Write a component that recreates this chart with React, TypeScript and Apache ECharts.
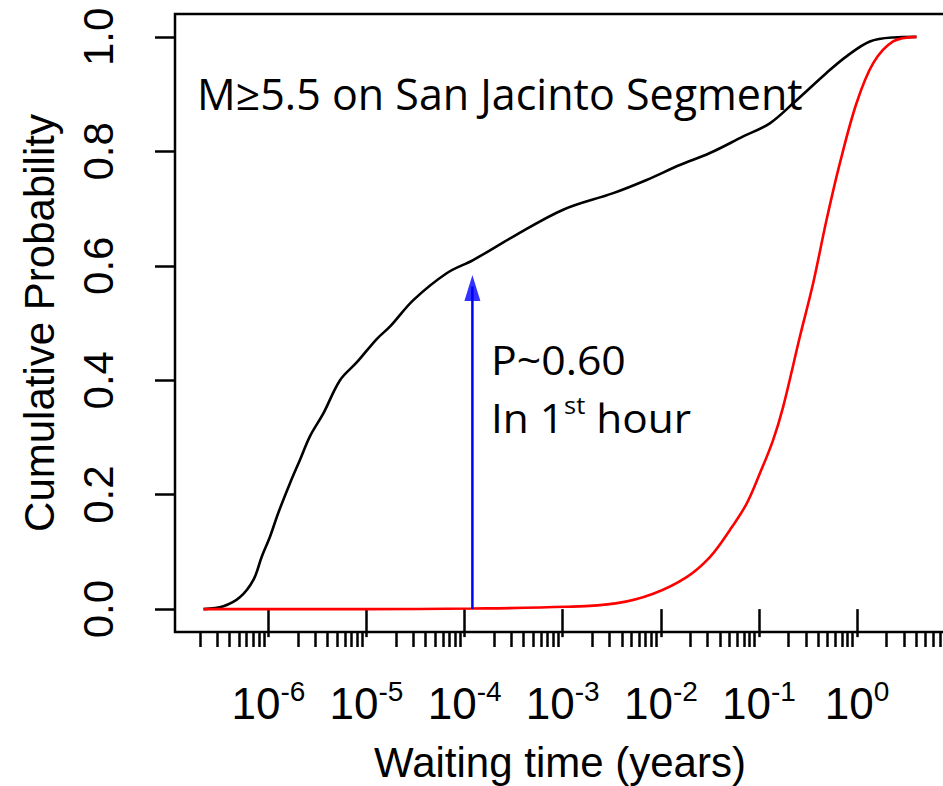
import React, { useEffect, useRef } from 'react';
import * as echarts from 'echarts';

// Waiting time (years) and cumulative probability
const BLACK_T = [2.18e-7, 3.48e-7, 5.15e-7, 7.03e-7, 8.57e-7, 1.04e-6, 1.26e-6, 1.66e-6, 2.1e-6, 2.65e-6, 3.63e-6, 5.37e-6, 7.94e-6, 1.27e-5, 1.74e-5, 3.0e-5, 6.56e-5, 1.22e-4, 3.13e-4, 1.01e-3, 3.27e-3, 7.15e-3, 0.0156, 0.0316, 0.069, 0.129, 0.223, 0.488, 0.78, 1.35, 2.33, 4.03];
const BLACK_P = [0, 0.005, 0.021, 0.051, 0.092, 0.127, 0.168, 0.22, 0.261, 0.302, 0.342, 0.4, 0.431, 0.472, 0.494, 0.54, 0.587, 0.61, 0.651, 0.698, 0.727, 0.75, 0.776, 0.797, 0.826, 0.849, 0.884, 0.937, 0.966, 0.992, 0.999, 1.0];

const RED_T = [2.18e-7, 1e-5, 1.2e-4, 1.07e-3, 3.46e-3, 8.36e-3, 0.0183, 0.0316, 0.0504, 0.0747, 0.102, 0.139, 0.176, 0.261, 0.356, 0.488, 0.667, 0.986, 1.46, 2.33, 4.03];
const RED_P = [0, 0, 0.001, 0.004, 0.01, 0.027, 0.056, 0.091, 0.138, 0.184, 0.237, 0.295, 0.353, 0.476, 0.569, 0.68, 0.779, 0.884, 0.954, 0.992, 1.0];

const MAJOR_TICKS = [1e-6, 1e-5, 1e-4, 1e-3, 1e-2, 1e-1, 1];
const MINOR_DECADES = [1e-7, 1e-6, 1e-5, 1e-4, 1e-3, 1e-2, 1e-1, 1];
const MINOR_MULTIPLIERS = [2, 3, 4, 5, 6, 7, 8, 9];
const Y_TICKS = [0, 0.2, 0.4, 0.6, 0.8, 1.0];

const ARROW_X = 1.2e-4; // about one hour, in years
const ARROW_TOP = 0.584;

const TITLE = 'M≥5.5 on San Jacinto Segment';
const NOTE_1 = 'P~0.60';

const X_MIN = Math.pow(10, -6.952);
const X_MAX = Math.pow(10, 0.896);

const AXIS_FONT = '"Liberation Sans", Arial, Helvetica, sans-serif';
const NOTE_FONT = '"Open Sans", Lato, sans-serif';

export default function App() {
  const ref = useRef<HTMLDivElement>(null);

  useEffect(() => {
    if (!ref.current) return;
    const chart = echarts.init(ref.current, null, { renderer: 'svg' });

    const minorTicks: number[] = [];
    MINOR_DECADES.forEach((d) => MINOR_MULTIPLIERS.forEach((m) => minorTicks.push(m * d)));

    const black = BLACK_T.map((t, i) => [t, BLACK_P[i]]);
    const red = RED_T.map((t, i) => [t, RED_P[i]]);

    chart.setOption({
      animation: false,
      backgroundColor: '#ffffff',
      grid: {
        left: 175,
        top: 14,
        width: 770,
        height: 618,
        show: true,
        borderColor: '#000',
        borderWidth: 2.5,
        backgroundColor: 'transparent',
        containLabel: false,
        outerBoundsMode: 'none',
      },
      xAxis: [
        {
          type: 'log',
          logBase: 10,
          min: X_MIN,
          max: X_MAX,
          gridIndex: 0,
          position: 'bottom',
          axisLine: { show: false },
          splitLine: { show: false },
          axisTick: {
            show: true,
            customValues: MAJOR_TICKS,
            length: 28,
            lineStyle: { color: '#000', width: 2.5 },
          },
          axisLabel: {
            show: true,
            customValues: MAJOR_TICKS,
            margin: 45,
            formatter: (v: number) => `{b|10}{s|${Math.round(Math.log10(v))}}`,
            rich: {
              b: { fontSize: 44, fontFamily: AXIS_FONT, color: '#000', lineHeight: 52 },
              s: { fontSize: 28, fontFamily: AXIS_FONT, color: '#000', lineHeight: 24, verticalAlign: 'top' },
            },
          },
          name: 'Waiting time (years)',
          nameLocation: 'middle',
          nameGap: 109,
          nameTextStyle: { fontSize: 42, fontFamily: AXIS_FONT, color: '#000' },
        },
        {
          type: 'log',
          logBase: 10,
          min: X_MIN,
          max: X_MAX,
          gridIndex: 0,
          position: 'bottom',
          axisLine: { show: false },
          splitLine: { show: false },
          axisTick: {
            show: true,
            customValues: minorTicks,
            length: 15,
            lineStyle: { color: '#000', width: 2.5 },
          },
          axisLabel: { show: false },
        },
      ],
      yAxis: {
        type: 'value',
        min: -0.04,
        max: 1.04,
        axisLine: { show: false },
        splitLine: { show: false },
        axisTick: {
          show: true,
          customValues: Y_TICKS,
          length: 20,
          lineStyle: { color: '#000', width: 2.5 },
        },
        axisLabel: {
          show: true,
          customValues: Y_TICKS,
          rotate: 90,
          margin: 56,
          fontSize: 42,
          fontFamily: AXIS_FONT,
          color: '#000',
          formatter: (v: number) => v.toFixed(1),
        },
        name: 'Cumulative Probability',
        nameLocation: 'middle',
        nameGap: 115,
        nameTextStyle: { fontSize: 42, fontFamily: AXIS_FONT, color: '#000' },
      },
      series: [
        {
          type: 'line',
          xAxisIndex: 0,
          data: black,
          showSymbol: false,
          smooth: 0.35,
          lineStyle: { color: '#000', width: 2.6 },
        },
        {
          type: 'line',
          xAxisIndex: 0,
          data: red,
          showSymbol: false,
          smooth: 0.35,
          lineStyle: { color: '#ff0000', width: 2.6 },
        },
        {
          type: 'line',
          xAxisIndex: 0,
          data: [[ARROW_X, 0], [ARROW_X, ARROW_TOP - 0.02]],
          showSymbol: false,
          lineStyle: { color: '#0000ff', width: 2.5 },
        },
        {
          type: 'scatter',
          xAxisIndex: 0,
          data: [[ARROW_X, ARROW_TOP]],
          symbol: 'triangle',
          symbolSize: [16, 26],
          symbolOffset: [0, '50%'],
          itemStyle: { color: '#0000ff' },
        },
      ],
      graphic: [
        {
          type: 'text',
          x: 197,
          y: 93,
          style: {
            text: TITLE,
            font: `43px ${NOTE_FONT}`,
            fill: '#000',
            verticalAlign: 'middle',
            align: 'left',
          },
        },
        {
          type: 'text',
          x: 491,
          y: 360,
          scaleX: 1.07,
          style: {
            text: NOTE_1,
            font: `40px ${NOTE_FONT}`,
            fill: '#000',
            verticalAlign: 'middle',
            align: 'left',
          },
        },
        {
          type: 'text',
          x: 491,
          y: 417,
          scaleX: 1.06,
          style: {
            text: '{a|In 1}{s|st}{a| hour}',
            verticalAlign: 'middle',
            align: 'left',
            rich: {
              a: { fontSize: 40, fontFamily: NOTE_FONT, fill: '#000', lineHeight: 48 },
              s: { fontSize: 24, fontFamily: NOTE_FONT, fill: '#000', lineHeight: 30, verticalAlign: 'top' },
            },
          },
        },
      ],
    });

    return () => chart.dispose();
  }, []);

  return (
    <div
      ref={ref}
      style={{ position: 'fixed', left: 0, top: 0, width: 943, height: 786, background: '#fff' }}
    />
  );
}
